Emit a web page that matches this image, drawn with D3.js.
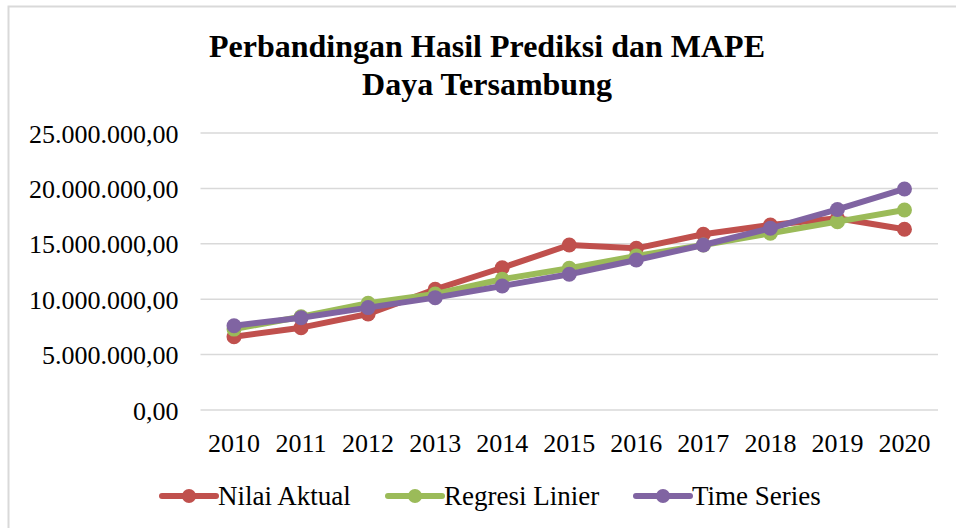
<!DOCTYPE html>
<html>
<head>
<meta charset="utf-8">
<script src="https://cdn.jsdelivr.net/npm/d3@7"></script>
<style>
  body { margin: 0; background: #fff; }
  svg { display: block; }
  text { font-family: "Liberation Serif", "Times New Roman", Tinos, Times, serif; }
</style>
</head>
<body>
<div id="chart"></div>
<script>
// data
const years = ["2010", "2011", "2012", "2013", "2014", "2015", "2016", "2017", "2018", "2019", "2020"];
const nilaiAktual = [6610000, 7430000, 8660000, 10890000, 12840000, 14890000, 14590000, 15860000, 16700000, 17300000, 16310000];
const regresiLinier = [7300000, 8420000, 9630000, 10470000, 11800000, 12790000, 13900000, 14890000, 15950000, 17000000, 18050000];
const timeSeries = [7610000, 8330000, 9240000, 10140000, 11190000, 12250000, 13540000, 14890000, 16400000, 18100000, 19950000];
const yTicks = [0, 5000000, 10000000, 15000000, 20000000, 25000000];
const seriesNames = ["Nilai Aktual", "Regresi Linier", "Time Series"];
const seriesColors = ["#c0504d", "#9bbb59", "#8064a2"];

const width = 956, height = 528;
const margin = { top: 133, left: 200.5, right: 18, bottom: 118 };

const svg = d3.select("#chart").append("svg")
  .attr("width", width)
  .attr("height", height);

// chart area border
svg.append("rect")
  .attr("x", 8.5).attr("y", 6.5)
  .attr("width", width + 10).attr("height", height + 10)
  .attr("fill", "white")
  .attr("stroke", "#d9d9d9")
  .attr("stroke-width", 2);

// title
const title = svg.append("text")
  .attr("text-anchor", "middle")
  .attr("font-weight", "bold")
  .attr("font-size", "32px")
  .attr("fill", "#000");
title.append("tspan").attr("x", 487).attr("y", 57)
  .text("Perbandingan Hasil Prediksi dan MAPE");
title.append("tspan").attr("x", 487).attr("y", 95)
  .text("Daya Tersambung");

const x = d3.scaleBand()
  .domain(years)
  .range([margin.left, width - margin.right]);

const y = d3.scaleLinear()
  .domain([0, 25000000])
  .range([height - margin.bottom, margin.top]);

const fmt = function (v) {
  return d3.format(",.2f")(v).replace(/,/g, "#").replace(/\./g, ",").replace(/#/g, ".");
};

// gridlines
svg.append("g")
  .selectAll("line")
  .data(yTicks)
  .enter()
  .append("line")
  .attr("x1", margin.left)
  .attr("x2", width - margin.right)
  .attr("y1", d => y(d))
  .attr("y2", d => y(d))
  .attr("stroke", "#d9d9d9")
  .attr("stroke-width", 1.5);

// y axis labels
const yAxis = svg.append("g")
  .attr("transform", "translate(" + (margin.left - 22) + ",0)")
  .call(d3.axisLeft(y).tickValues(yTicks).tickFormat(fmt).tickSize(0).tickPadding(0));
yAxis.select(".domain").remove();
yAxis.attr("font-family", null);
yAxis.selectAll("text")
  .attr("font-size", "26px")
  .attr("fill", "#000")
  .attr("dy", "0.35em");

// x axis labels
const xAxis = svg.append("g")
  .attr("transform", "translate(0," + (height - margin.bottom) + ")")
  .call(d3.axisBottom(x).tickSize(0).tickPadding(0));
xAxis.select(".domain").remove();
xAxis.attr("font-family", null);
xAxis.selectAll("text")
  .attr("font-size", "26px")
  .attr("fill", "#000")
  .attr("y", 42)
  .attr("dy", 0);

const allSeries = [nilaiAktual, regresiLinier, timeSeries];
const line = d3.line()
  .x((d, i) => x(years[i]) + x.bandwidth() / 2)
  .y(d => y(d));

allSeries.forEach(function (values, s) {
  const g = svg.append("g");
  g.append("path")
    .datum(values)
    .attr("d", line)
    .attr("fill", "none")
    .attr("stroke", seriesColors[s])
    .attr("stroke-width", 6)
    .attr("stroke-linejoin", "round")
    .attr("stroke-linecap", "round");
  g.selectAll("circle")
    .data(values)
    .enter()
    .append("circle")
    .attr("cx", (d, i) => x(years[i]) + x.bandwidth() / 2)
    .attr("cy", d => y(d))
    .attr("r", 7.5)
    .attr("fill", seriesColors[s]);
});

// legend
const legendX = [162, 388, 636];
const legend = svg.append("g")
  .selectAll("g")
  .data(seriesNames)
  .enter()
  .append("g")
  .attr("transform", (d, i) => "translate(" + legendX[i] + ",496)");
legend.append("line")
  .attr("x1", 0).attr("x2", 54)
  .attr("y1", 0).attr("y2", 0)
  .attr("stroke", (d, i) => seriesColors[i])
  .attr("stroke-width", 6)
  .attr("stroke-linecap", "round");
legend.append("circle")
  .attr("cx", 27).attr("cy", 0)
  .attr("r", 7)
  .attr("fill", (d, i) => seriesColors[i]);
legend.append("text")
  .attr("x", 56)
  .attr("y", 9)
  .attr("font-size", "27px")
  .attr("fill", "#000")
  .text(d => d);
</script>
</body>
</html>
